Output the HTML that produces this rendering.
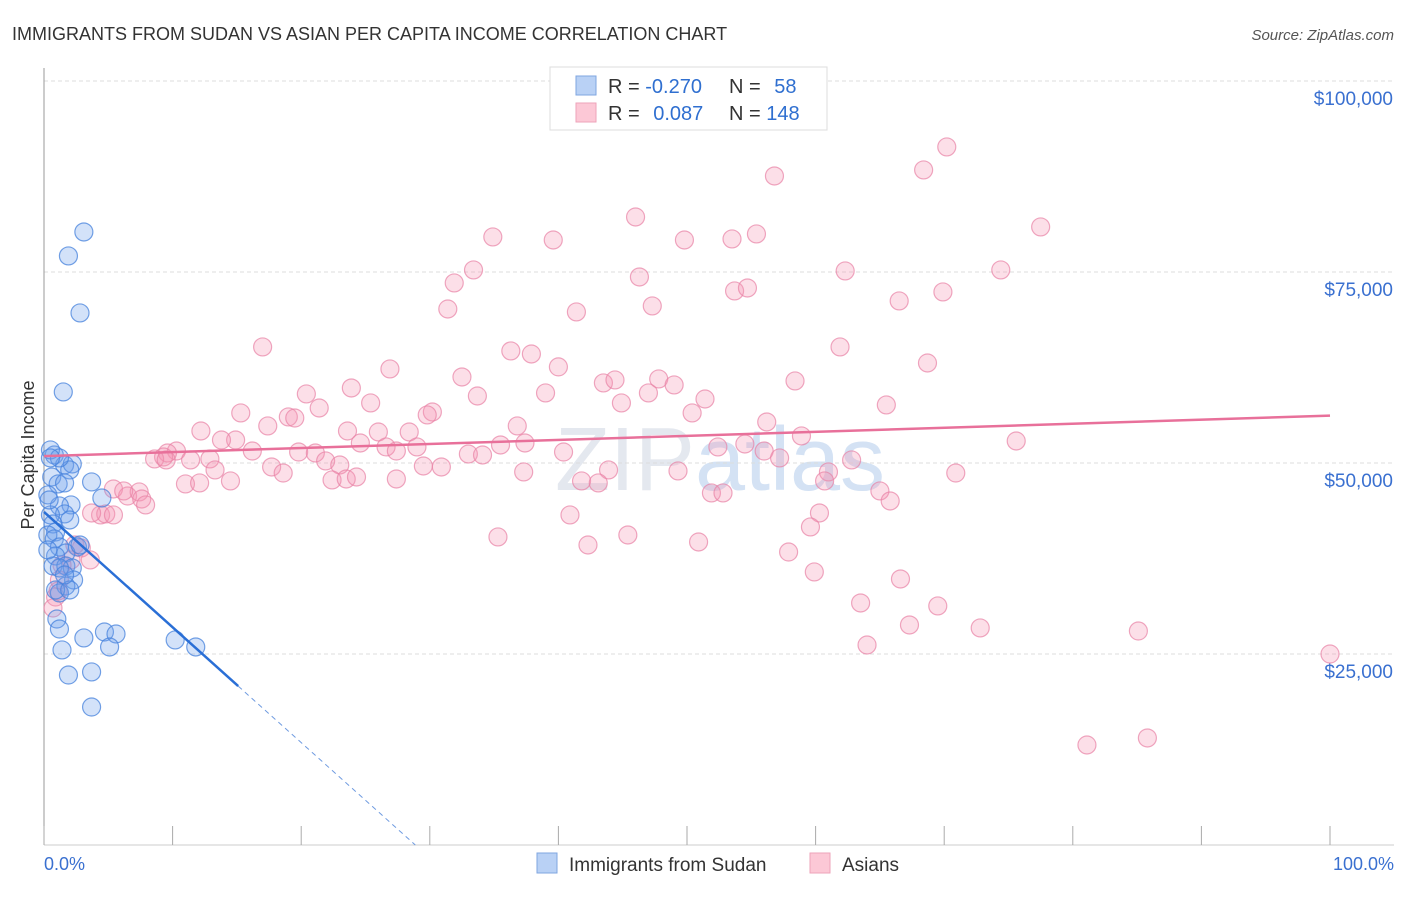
<!DOCTYPE html>
<html><head><meta charset="utf-8"><style>
body{margin:0;background:#fff;font-family:"Liberation Sans",sans-serif;}
svg text{font-family:"Liberation Sans",sans-serif;}
</style></head><body>
<svg width="1406" height="892" id="chart">
<text x="12" y="40" font-size="18" fill="#333">IMMIGRANTS FROM SUDAN VS ASIAN PER CAPITA INCOME CORRELATION CHART</text>
<text x="1394" y="40" font-size="15" fill="#555" font-style="italic" text-anchor="end">Source: ZipAtlas.com</text>
<text x="720" y="490" font-size="90" fill="#e4e8ef" text-anchor="middle" font-family="Liberation Serif">ZIP<tspan fill="#d4e2f4" font-family="Liberation Sans">atlas</tspan></text>
<g id="grid"></g>
<g id="axes"></g>
<g id="pts"></g>
<g id="trend"></g>
<text transform="translate(34,455) rotate(-90)" font-size="18" fill="#333" text-anchor="middle">Per Capita Income</text>
<text x="44" y="870" font-size="18" fill="#3a70d0">0.0%</text>
<text x="1394" y="870" font-size="18" fill="#3a70d0" text-anchor="end">100.0%</text>
<g>
<rect x="550" y="67" width="277" height="63" fill="#fff" stroke="#ddd"/>
<rect x="576" y="76" width="20" height="19" fill="#b9d1f5" stroke="#7fa6e0"/>
<rect x="576" y="103" width="20" height="19" fill="#fcc8d6" stroke="#eea3ba"/>
<text x="608" y="93" font-size="20" fill="#333">R = <tspan fill="#2f6fd0">-0.270</tspan></text>
<text x="729" y="93" font-size="20" fill="#333">N = <tspan fill="#2f6fd0" dx="8">58</tspan></text>
<text x="608" y="120" font-size="20" fill="#333">R = <tspan fill="#2f6fd0" dx="8">0.087</tspan></text>
<text x="729" y="120" font-size="20" fill="#333">N = <tspan fill="#2f6fd0">148</tspan></text>
</g>
<g>
<rect x="537" y="853" width="20" height="20" fill="#b9d1f5" stroke="#7fa6e0"/>
<text x="569" y="871" font-size="19" fill="#333">Immigrants from Sudan</text>
</g>
<g>
<rect x="810" y="853" width="20" height="20" fill="#fcc8d6" stroke="#eea3ba"/>
<text x="842" y="871" font-size="19" fill="#333">Asians</text>
</g>
</svg>
<script>
const yTicks=[25000,50000,75000,100000];
const yTickLabels=["$25,000","$50,000","$75,000","$100,000"];
const xTicks=[0,10,20,30,40,50,60,70,80,90,100];
const sudanPts=[[3.1,80240],[1.9,77100],[2.8,69640],[1.5,59300],[0.8,51050],[1.6,49740],[2.2,49870],[2.0,49090],[0.6,48170],[1.1,47260],[1.6,47390],[3.7,47520],[4.5,45420],[2.1,44510],[1.2,44380],[1.6,43330],[0.5,43200],[2.0,42540],[0.7,42020],[0.9,40970],[0.3,40580],[0.8,40060],[1.2,39010],[2.6,39010],[1.7,38220],[0.9,37830],[0.7,36520],[1.7,36520],[2.2,36260],[1.2,36260],[2.3,34690],[1.7,33900],[1.2,32990],[1.0,29580],[1.2,28270],[3.1,27100],[4.7,27880],[5.6,27620],[5.1,25920],[1.4,25530],[10.2,26840],[11.8,25920],[1.9,22250],[3.7,22650],[3.7,18060],[0.3,45820],[0.4,45160],[0.5,51710],[1.2,50660],[0.3,38620],[2.8,39270],[0.5,50660],[0.9,33380],[2.0,33380],[1.6,35340]];
const asianPts=[[70.2,91370],[68.4,88360],[56.8,87570],[46.0,82200],[77.5,80900],[34.9,79590],[39.6,79190],[49.8,79190],[55.4,79980],[53.5,79330],[33.4,75270],[46.3,74350],[62.3,75140],[74.4,75270],[31.9,73570],[53.7,72520],[54.7,72910],[69.9,72390],[66.5,71210],[47.3,70560],[31.4,70160],[41.4,69770],[17.0,65190],[61.9,65190],[36.3,64670],[37.9,64270],[26.9,62310],[68.7,63090],[32.5,61260],[40.0,62580],[43.5,60480],[44.4,60870],[58.4,60740],[47.8,61000],[49.0,60220],[23.9,59820],[20.4,59040],[33.7,58770],[39.0,59170],[47.0,59170],[51.4,58380],[65.5,57600],[44.9,57860],[15.3,56550],[21.4,57200],[25.4,57860],[30.2,56680],[29.8,56290],[50.4,56550],[17.4,54850],[19.0,56030],[19.5,55890],[36.8,54850],[56.2,55370],[58.9,53540],[12.2,54190],[14.9,53010],[23.6,54190],[26.0,54060],[28.4,54060],[13.8,53010],[10.3,51570],[9.6,51310],[9.3,50790],[8.6,50530],[16.2,51570],[19.8,51440],[21.1,51310],[24.6,52620],[26.6,52100],[29.0,52100],[33.0,51180],[34.1,51050],[35.5,52360],[40.4,51440],[37.4,52620],[52.4,52100],[54.5,52490],[56.0,51570],[57.2,50660],[62.8,50400],[75.6,52880],[11.4,50400],[12.9,50530],[9.5,50400],[13.3,49090],[17.7,49480],[18.6,48690],[21.9,50270],[23.0,49740],[27.4,51570],[30.9,49480],[29.5,49610],[43.9,49090],[49.3,48960],[61.0,48830],[70.9,48690],[11.0,47260],[12.1,47390],[14.5,47650],[22.4,47780],[23.5,47910],[24.3,48170],[27.4,47910],[37.3,48830],[41.8,47650],[43.1,47390],[60.7,47650],[5.4,46600],[6.5,45680],[7.4,46210],[7.6,45290],[6.2,46340],[65.0,46340],[51.9,46080],[52.8,46080],[65.8,45030],[7.9,44510],[4.4,43200],[4.8,43330],[5.4,43200],[3.7,43460],[60.3,43460],[40.9,43200],[59.6,41630],[35.3,40320],[45.4,40580],[50.9,39660],[42.3,39270],[57.9,38350],[2.9,38880],[2.4,39270],[2.1,37310],[3.6,37310],[1.4,36650],[1.2,34690],[0.9,32460],[0.7,31020],[1.1,33250],[59.9,35740],[66.6,34820],[63.5,31680],[69.5,31290],[67.3,28800],[72.8,28410],[85.1,28010],[64.0,26180],[100,25000],[81.1,13090],[85.8,14010]];
const asianTrend=[50900,56200];
const sudanTrend=[43600,-1510];
const NS="http://www.w3.org/2000/svg";
const X=v=>44+v*12.86, Y=v=>845-v*191/25000;
function mk(tag,attrs,parent){const e=document.createElementNS(NS,tag);for(const k in attrs)e.setAttribute(k,attrs[k]);document.getElementById(parent).appendChild(e);return e;}
yTicks.forEach((t,i)=>{
 const g=mk('line',{x1:44,x2:1394,y1:Y(t),y2:Y(t),stroke:'#ddd','stroke-dasharray':'4,3'},'grid');
 
 
 const l=mk('text',{x:1393,y:Y(t)+24,'font-size':19,fill:'#3a70d0','text-anchor':'end'},'grid');
 l.textContent=yTickLabels[i];
 
 
});
mk('line',{x1:44,x2:44,y1:68,y2:845,stroke:'#999'},'axes');
mk('line',{x1:44,x2:1394,y1:845,y2:845,stroke:'#ccc'},'axes');
xTicks.forEach(t=>{
 const k=mk('line',{x1:X(t),x2:X(t),y1:826,y2:845,stroke:'#aaa'},'axes');
 
 
});
asianPts.forEach(p=>{
 const c=mk('circle',{cx:X(p[0]),cy:Y(p[1]),r:9,fill:'rgba(245,150,180,0.3)',stroke:'rgba(232,130,165,0.7)','stroke-width':1.2},'pts');
 
 
});
sudanPts.forEach(p=>{
 const c=mk('circle',{cx:X(p[0]),cy:Y(p[1]),r:9,fill:'rgba(110,160,235,0.3)',stroke:'rgba(70,130,220,0.75)','stroke-width':1.2},'pts');
 
 
});
const pl=mk('line',{x1:X(0),y1:Y(asianTrend[0]),x2:X(100),y2:Y(asianTrend[1]),stroke:'#e8709a','stroke-width':2.5},'trend');


const xe=15.1, x0=-sudanTrend[0]/sudanTrend[1];
const bl=mk('line',{x1:X(0),y1:Y(sudanTrend[0]),x2:X(xe),y2:Y(sudanTrend[0]+sudanTrend[1]*xe),stroke:'#2a6fd6','stroke-width':2.5},'trend');


const bd=mk('line',{x1:X(xe),y1:Y(sudanTrend[0]+sudanTrend[1]*xe),x2:X(x0),y2:Y(0),stroke:'#6f9be0','stroke-width':1,'stroke-dasharray':'5,4'},'trend');


</script>
</body></html>
